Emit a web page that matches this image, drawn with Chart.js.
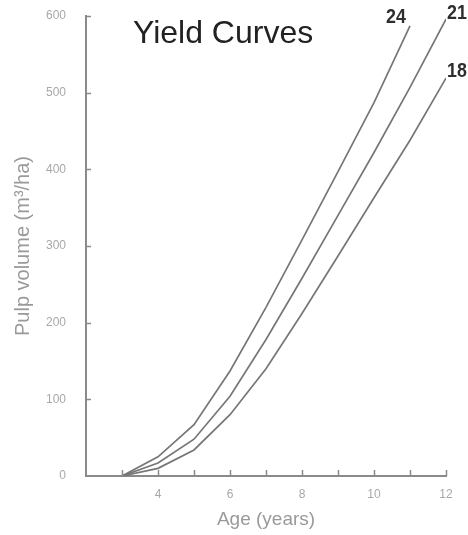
<!DOCTYPE html>
<html>
<head>
<meta charset="utf-8">
<script src="https://cdn.jsdelivr.net/npm/chart.js@4/dist/chart.umd.min.js"></script>
<style>
  html, body { margin: 0; padding: 0; background: #fff; }
  #wrap { position: relative; width: 468px; height: 535px; }
</style>
</head>
<body>
<div id="wrap"><canvas id="yieldChart"></canvas></div>
<script>
// Yield curves - pulp volume by age, one curve per site index
const ages = [3, 4, 5, 6, 7, 8, 9, 10, 11, 12];
const curve24 = [0, 25, 67, 137, 220, 308, 397, 487, 587];
const curve21 = [0, 17, 48, 104, 178, 258, 340, 422, 507, 596];
const curve18 = [0, 10, 34, 80, 140, 212, 287, 363, 438, 519];
const curveNames = ['24', '21', '18'];
const xTickLabels = [4, 6, 8, 10, 12];
const yTickValues = [0, 100, 200, 300, 400, 500, 600];

const toPoints = (values) => values.map((v, i) => ({ x: ages[i], y: v }));

const AXIS_COLOR = '#8a8a8a';
const LINE_COLOR = '#767676';
const TICK_TEXT = '#a8a8a8';
const TITLE_TEXT = '#9a9a9a';

// ticks point into the plot, so they are drawn here instead of by the grid
const inwardTicks = {
    id: 'inwardTicks',
    afterDatasetsDraw(chart) {
        const { ctx, chartArea, scales } = chart;
        ctx.save();
        ctx.strokeStyle = AXIS_COLOR;
        ctx.lineWidth = 1.5;
        ctx.beginPath();
        for (let a = 3; a <= 12; a++) {
            const px = Math.round(scales.x.getPixelForValue(a)) + 0.5;
            ctx.moveTo(px, chartArea.bottom);
            ctx.lineTo(px, chartArea.bottom - 6);
        }
        yTickValues.slice(1).forEach(v => {
            const py = Math.round(scales.y.getPixelForValue(v)) + 0.5;
            ctx.moveTo(chartArea.left, py);
            ctx.lineTo(chartArea.left + 5, py);
        });
        ctx.stroke();
        ctx.restore();
    }
};

// chart title inside the plot and the labels at the end of each curve
const annotations = {
    id: 'annotations',
    afterDatasetsDraw(chart) {
        const { ctx, chartArea } = chart;
        ctx.save();
        ctx.fillStyle = '#222';
        ctx.font = '32px "Liberation Sans", Arial, sans-serif';
        ctx.textAlign = 'left';
        ctx.textBaseline = 'alphabetic';
        ctx.fillText('Yield Curves', chartArea.left + 47, 43);

        // the curve labels are in a condensed bold face, so squeeze them a bit
        const offsets = [[-14, -10], [11, -6.5], [11, -7.5]];
        ctx.fillStyle = '#2e2e2e';
        ctx.font = 'bold 21px "Liberation Sans", Arial, sans-serif';
        ctx.textAlign = 'center';
        ctx.textBaseline = 'middle';
        chart.data.datasets.forEach((ds, i) => {
            const pts = chart.getDatasetMeta(i).data;
            const last = pts[pts.length - 1];
            ctx.save();
            ctx.translate(last.x + offsets[i][0], last.y + offsets[i][1]);
            ctx.scale(0.85, 1);
            ctx.fillText(curveNames[i], 0, 1);
            ctx.restore();
        });
        ctx.restore();
    }
};

const lineStyle = {
    borderColor: LINE_COLOR,
    borderWidth: 1.7,
    pointRadius: 0,
    tension: 0,
    fill: false
};

new Chart(document.getElementById('yieldChart'), {
    type: 'line',
    data: {
        datasets: [
            { label: curveNames[0], data: toPoints(curve24), ...lineStyle },
            { label: curveNames[1], data: toPoints(curve21), ...lineStyle },
            { label: curveNames[2], data: toPoints(curve18), ...lineStyle }
        ]
    },
    options: {
        responsive: true,
        maintainAspectRatio: false,
        animation: false,
        layout: { padding: { top: 16, right: 22, left: 0, bottom: 0 } },
        plugins: {
            legend: { display: false },
            tooltip: { enabled: false }
        },
        scales: {
            x: {
                type: 'linear',
                min: 2,
                max: 12,
                afterFit: (scale) => {
                    scale.height = 59;
                    scale.paddingLeft = 0;
                    scale.paddingRight = 0;
                },
                border: { color: AXIS_COLOR, width: 2 },
                grid: { display: false, drawTicks: false },
                afterBuildTicks: (scale) => {
                    scale.ticks = xTickLabels.map(v => ({ value: v }));
                },
                ticks: {
                    color: TICK_TEXT,
                    padding: 11,
                    font: { family: 'Liberation Sans', size: 12 }
                },
                title: {
                    display: true,
                    text: 'Age (years)',
                    color: TITLE_TEXT,
                    padding: { top: 4 },
                    font: { family: 'Liberation Sans', size: 19 }
                }
            },
            y: {
                min: 0,
                max: 600,
                afterFit: (scale) => {
                    scale.width = 86;
                    scale.paddingTop = 0;
                    scale.paddingBottom = 0;
                },
                border: { color: AXIS_COLOR, width: 2 },
                grid: { display: false, drawTicks: false },
                afterBuildTicks: (scale) => {
                    scale.ticks = yTickValues.map(v => ({ value: v }));
                },
                ticks: {
                    color: TICK_TEXT,
                    padding: 20,
                    font: { family: 'Liberation Sans', size: 12 }
                },
                title: {
                    display: true,
                    text: 'Pulp volume (m³/ha)',
                    color: TITLE_TEXT,
                    padding: { top: 11, bottom: 0 },
                    font: { family: 'Liberation Sans', size: 20 }
                }
            }
        }
    },
    plugins: [inwardTicks, annotations]
});
</script>
</body>
</html>
